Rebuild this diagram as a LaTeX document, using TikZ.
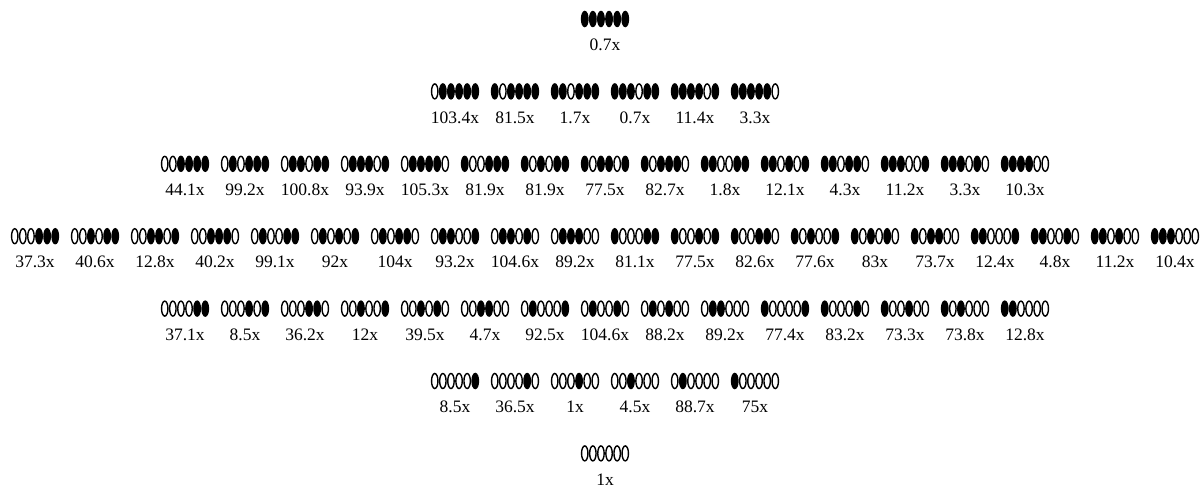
\documentclass[tikz,border=0pt]{standalone}
\usepackage{fontspec}
\setmainfont{Liberation Serif}
\usetikzlibrary{shapes.geometric}
\tikzset{
  bitnode/.style={draw=black, line width=1.4pt, ellipse, minimum width=6.4pt, minimum height=15pt, inner sep=0pt},
  lab/.style={inner sep=0pt, font=\fontsize{17.5}{20}\selectfont}
}
\def\splitbits#1#2#3#4#5#6{\def\bitlist{#1,#2,#3,#4,#5,#6}}
\newcommand\drawrow[3]{%
  \foreach \p/\l [count=\i] in {#3}{%
    \pgfmathsetmacro\cx{605+(\i-(#2+1)/2)*60}%
    \pgfmathsetmacro\cy{19+72.4*(#1-1)}%
    \expandafter\splitbits\p
    \foreach \b [count=\k] in \bitlist {%
      \ifnum\b=1 \def\fc{black}\else\def\fc{white}\fi
      \node[bitnode, fill=\fc] (b#1-\i-\k) at ({\cx+(\k-3.5)*8.1},\cy) {};
    }
    \node[lab] (l#1-\i) at (\cx,\cy+26) {\l};
  }}
\begin{document}
\begin{tikzpicture}[x=1pt,y=-1pt]
\useasboundingbox (0,0) rectangle (1202,488);
\drawrow{1}{1}{111111/0.7x}
\drawrow{2}{6}{011111/103.4x,101111/81.5x,110111/1.7x,111011/0.7x,111101/11.4x,111110/3.3x}
\drawrow{3}{15}{001111/44.1x,010111/99.2x,011011/100.8x,011101/93.9x,011110/105.3x,100111/81.9x,101011/81.9x,101101/77.5x,101110/82.7x,110011/1.8x,110101/12.1x,110110/4.3x,111001/11.2x,111010/3.3x,111100/10.3x}
\drawrow{4}{20}{000111/37.3x,001011/40.6x,001101/12.8x,001110/40.2x,010011/99.1x,010101/92x,010110/104x,011001/93.2x,011010/104.6x,011100/89.2x,100011/81.1x,100101/77.5x,100110/82.6x,101001/77.6x,101010/83x,101100/73.7x,110001/12.4x,110010/4.8x,110100/11.2x,111000/10.4x}
\drawrow{5}{15}{000011/37.1x,000101/8.5x,000110/36.2x,001001/12x,001010/39.5x,001100/4.7x,010001/92.5x,010010/104.6x,010100/88.2x,011000/89.2x,100001/77.4x,100010/83.2x,100100/73.3x,101000/73.8x,110000/12.8x}
\drawrow{6}{6}{000001/8.5x,000010/36.5x,000100/1x,001000/4.5x,010000/88.7x,100000/75x}
\drawrow{7}{1}{000000/1x}
\end{tikzpicture}
\end{document}
